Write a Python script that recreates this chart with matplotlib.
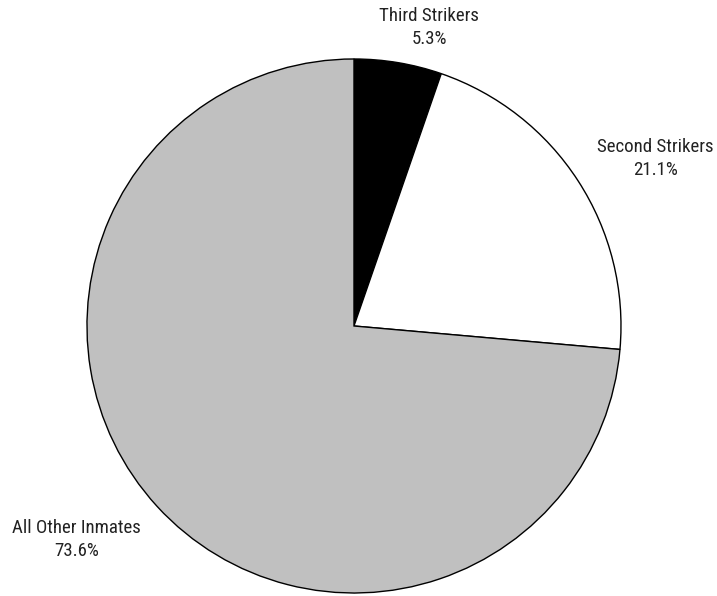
import matplotlib
matplotlib.use("Agg")
import matplotlib.pyplot as plt
from matplotlib import font_manager

categories = ["Third Strikers", "Second Strikers", "All Other Inmates"]
values = [5.3, 21.1, 73.6]
colors = ["#000000", "#ffffff", "#c0c0c0"]

names = {f.name for f in font_manager.fontManager.ttflist}
fam = [f for f in ["Liberation Sans Narrow", "Roboto Condensed", "Roboto", "DejaVu Sans"] if f in names]
plt.rcParams['font.family'] = fam

fig = plt.figure(figsize=(7.17, 5.96), dpi=100)
ax = fig.add_axes([0.1213, 0.00503, 0.7448, 0.896])
ax.pie(values, colors=colors, startangle=90, counterclock=False,
       wedgeprops=dict(edgecolor="black", linewidth=1.0))
ax.set_xlim(-1, 1)
ax.set_ylim(-1, 1)
ax.set_aspect("equal")

label_pos = [(0.282, 1.118), (1.129, 0.627), (-1.039, -0.800)]
for cat, v, (x, y) in zip(categories, values, label_pos):
    ax.text(x, y, f"{cat}\n{v:.1f}%", ha="center", va="center",
            fontsize=13.6, color="#222222", linespacing=1.35, clip_on=False)

fig.savefig("out.png", dpi=100)
